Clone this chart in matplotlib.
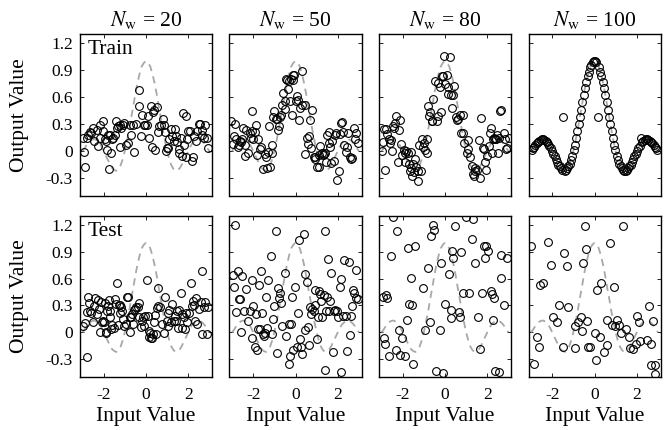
import matplotlib
matplotlib.use("Agg")
import matplotlib.pyplot as plt

plt.rcParams['font.family'] = ['Liberation Serif', 'DejaVu Serif']
plt.rcParams['mathtext.fontset'] = 'stix'
plt.rcParams['axes.unicode_minus'] = False

window_sizes = [20, 50, 80, 100]
row_names = ['Train', 'Test']

# target function (dashed grey)
curve_x = [-3.0, -2.9, -2.8, -2.7, -2.6, -2.5, -2.4, -2.3, -2.2, -2.1,
           -2.0, -1.9, -1.8, -1.7, -1.6, -1.5, -1.4, -1.3, -1.2, -1.1,
           -1.0, -0.9, -0.8, -0.7, -0.6, -0.5, -0.4, -0.3, -0.2, -0.1,
           0.0, 0.1, 0.2, 0.3, 0.4, 0.5, 0.6, 0.7, 0.8, 0.9,
           1.0, 1.1, 1.2, 1.3, 1.4, 1.5, 1.6, 1.7, 1.8, 1.9,
           2.0, 2.1, 2.2, 2.3, 2.4, 2.5, 2.6, 2.7, 2.8, 2.9, 3.0]
curve_y = [0.00, 0.03, 0.07, 0.10, 0.12, 0.13, 0.13, 0.11, 0.09, 0.05,
           0.00, -0.05, -0.10, -0.15, -0.19, -0.21, -0.22, -0.20, -0.16, -0.09,
           0.00, 0.11, 0.23, 0.37, 0.50, 0.64, 0.76, 0.86, 0.94, 0.98,
           1.00, 0.98, 0.94, 0.86, 0.76, 0.64, 0.50, 0.37, 0.23, 0.11,
           0.00, -0.09, -0.16, -0.20, -0.22, -0.21, -0.19, -0.15, -0.10, -0.05,
           0.00, 0.05, 0.09, 0.11, 0.13, 0.13, 0.12, 0.10, 0.07, 0.03, 0.00]

# ---- train, Nw = 20
train20_x = [-2.97, -2.94, -2.89, -2.81, -2.73, -2.66, -2.58, -2.50, -2.47, -2.34,
             -2.27, -2.19, -2.16, -2.03, -2.03, -1.95, -1.88, -1.83, -1.80, -1.77,
             -1.72, -1.64, -1.59, -1.56, -1.48, -1.44, -1.38, -1.33, -1.25, -1.22,
             -1.17, -1.09, -1.02, -0.94, -0.86, -0.78, -0.70, -0.63, -0.55, -0.47,
             -0.34, -0.31, -0.23, -0.19, -0.08, -0.03, 0.03, 0.09, 0.16, 0.23,
             0.28, 0.31, 0.39, 0.44, 0.50, 0.55, 0.63, 0.70, 0.78, 0.86,
             0.89, 0.94, 0.97, 1.02, 1.09, 1.17, 1.25, 1.33, 1.38, 1.44,
             1.48, 1.56, 1.56, 1.64, 1.69, 1.75, 1.80, 1.88, 1.91, 1.95,
             2.00, 2.06, 2.19, 2.22, 2.27, 2.34, 2.42, 2.50, 2.55, 2.63,
             2.66, 2.73, 2.81, 2.86, 2.94]
train20_y = [0.15, -0.01, -0.18, 0.15, 0.18, 0.21, 0.20, 0.26, 0.11, 0.23,
             0.06, 0.29, 0.15, 0.33, 0.22, 0.13, 0.11, 0.01, 0.18, -0.20,
             0.18, -0.02, 0.13, 0.15, 0.18, 0.33, 0.26, 0.28, 0.04, 0.29,
             0.26, 0.29, 0.31, 0.07, 0.09, 0.29, 0.18, 0.29, -0.01, 0.30,
             0.68, 0.50, 0.17, 0.40, 0.29, 0.29, 0.29, 0.39, 0.15, 0.50,
             0.04, 0.43, 0.46, 0.01, 0.49, 0.21, 0.28, 0.29, 0.36, 0.29,
             0.21, 0.00, 0.03, 0.03, 0.13, 0.24, 0.17, 0.11, 0.24, 0.17,
             0.10, -0.02, 0.02, 0.15, -0.06, 0.42, 0.07, 0.39, -0.07, 0.13,
             0.22, 0.22, -0.11, -0.07, 0.17, 0.11, 0.22, 0.30, 0.30, 0.23,
             0.18, 0.15, 0.29, 0.15, 0.03]

# ---- train, Nw = 50
train50_x = [-3.03, -2.84, -2.90, -2.95, -2.79, -2.71, -2.68, -2.63, -2.59, -2.52,
             -2.48, -2.40, -2.37, -2.33, -2.24, -2.16, -2.11, -2.08, -2.05, -2.00,
             -1.92, -1.87, -1.84, -1.76, -1.68, -1.63, -1.52, -1.44, -1.41, -1.37,
             -1.32, -1.25, -1.21, -1.13, -1.10, -1.05, -1.00, -0.94, -0.89, -0.84,
             -0.78, -0.73, -0.68, -0.65, -0.57, -0.52, -0.49, -0.46, -0.41, -0.37,
             -0.33, -0.25, -0.21, -0.17, -0.14, -0.10, -0.05, 0.02, 0.06, 0.14,
             0.17, 0.22, 0.30, 0.33, 0.43, 0.46, 0.54, 0.59, 0.65, 0.70,
             0.75, 0.78, 0.86, 0.90, 0.94, 1.02, 1.10, 1.13, 1.17, 1.25,
             1.29, 1.33, 1.41, 1.44, 1.49, 1.57, 1.60, 1.65, 1.70, 1.73,
             1.81, 1.86, 1.92, 1.97, 2.05, 2.08, 2.13, 2.21, 2.24, 2.29,
             2.37, 2.44, 2.49, 2.56, 2.60, 2.68, 2.76, 2.81, 2.87, 2.97]
train50_y = [0.33, 0.30, 0.17, 0.08, 0.13, 0.04, 0.07, 0.11, 0.10, 0.13,
             0.26, 0.07, -0.06, 0.23, -0.02, 0.20, 0.15, 0.22, 0.45, 0.13,
             0.21, 0.29, -0.04, 0.13, 0.02, 0.05, -0.20, -0.03, -0.07, -0.19,
             -0.01, 0.28, -0.18, -0.02, 0.07, 0.38, 0.44, 0.36, 0.36, 0.23,
             0.28, 0.38, 0.40, 0.51, 0.64, 0.47, 0.56, 0.80, 0.79, 0.69,
             0.78, 0.56, 0.80, 0.40, 0.79, 0.85, 0.85, 0.56, 0.61, 0.57,
             0.34, 0.48, 0.51, 0.89, 0.51, -0.03, 0.15, 0.08, 0.17, 0.35,
             0.03, 0.46, -0.07, -0.07, -0.09, -0.18, -0.18, -0.04, 0.06, -0.02,
             -0.04, -0.03, -0.02, -0.12, 0.18, 0.21, 0.09, 0.04, -0.13, 0.11,
             -0.11, 0.18, 0.20, -0.32, -0.22, 0.19, 0.31, 0.32, 0.21, 0.07,
             -0.01, 0.04, 0.20, -0.07, -0.09, -0.08, 0.26, 0.13, 0.20, 0.09]

# ---- train, Nw = 80
train80_x = [-2.98, -2.94, -2.89, -2.83, -2.78, -2.73, -2.67, -2.62, -2.57, -2.51,
             -2.46, -2.41, -2.35, -2.30, -2.22, -2.19, -2.14, -2.06, -2.03, -1.94,
             -1.90, -1.87, -1.83, -1.75, -1.71, -1.67, -1.62, -1.59, -1.56, -1.51,
             -1.46, -1.40, -1.35, -1.30, -1.27, -1.22, -1.14, -1.11, -1.03, -0.98,
             -0.95, -0.87, -0.83, -0.79, -0.76, -0.71, -0.63, -0.60, -0.56, -0.48,
             -0.40, -0.35, -0.32, -0.24, -0.19, -0.16, -0.08, -0.03, 0.00, 0.08,
             0.13, 0.16, 0.24, 0.29, 0.32, 0.40, 0.44, 0.51, 0.56, 0.63,
             0.71, 0.76, 0.83, 0.87, 0.92, 1.03, 1.08, 1.11, 1.19, 1.27,
             1.30, 1.35, 1.40, 1.43, 1.51, 1.62, 1.67, 1.71, 1.78, 1.83,
             1.90, 1.94, 1.98, 2.06, 2.14, 2.19, 2.22, 2.25, 2.30, 2.35,
             2.41, 2.46, 2.51, 2.57, 2.62, 2.67, 2.78, 2.83, 2.86, 2.94, 3.02]
train80_y = [0.00, 0.10, 0.24, -0.21, 0.25, 0.19, 0.13, 0.09, 0.12, 0.00,
             0.28, 0.26, 0.31, 0.39, -0.12, 0.23, 0.35, 0.08, -0.04, 0.01,
             -0.12, -0.02, 0.00, -0.02, -0.14, -0.22, -0.19, -0.01, -0.28, -0.14,
             -0.23, -0.09, -0.18, -0.22, -0.33, 0.07, -0.22, 0.13, 0.04, 0.09,
             0.01, -0.02, 0.13, 0.50, 0.39, 0.43, 0.33, 0.33, 0.58, 0.78,
             0.33, 0.76, 0.39, 0.71, 0.43, 0.83, 0.83, 1.06, 0.74, 0.84,
             0.63, 0.71, 1.04, 0.62, 0.48, 0.62, 0.72, 0.38, 0.35, 0.36,
             0.40, 0.20, 0.40, 0.20, 0.09, -0.02, 0.02, 0.12, -0.07, -0.17,
             -0.26, -0.28, -0.22, -0.19, -0.21, 0.12, -0.30, 0.37, 0.03, 0.02,
             -0.12, -0.21, -0.06, 0.06, 0.20, 0.26, -0.02, 0.13, 0.15, 0.13,
             0.13, 0.18, -0.02, 0.15, 0.45, 0.46, 0.20, 0.13, 0.02, 0.03, 0.15]

# ---- train, Nw = 100
train100_x = [-2.97, -2.91, -2.85, -2.79, -2.73, -2.67, -2.61, -2.55, -2.49, -2.43,
              -2.37, -2.31, -2.25, -2.19, -2.13, -2.07, -2.01, -1.95, -1.89, -1.83,
              -1.77, -1.71, -1.65, -1.59, -1.53, -1.47, -1.41, -1.35, -1.29, -1.23,
              -1.17, -1.11, -1.05, -0.99, -0.93, -0.87, -0.81, -0.75, -0.69, -0.63,
              -0.57, -0.51, -0.45, -0.39, -0.33, -0.27, -0.21, -0.15, -0.09, -0.03,
              0.03, 0.09, 0.15, 0.21, 0.27, 0.33, 0.39, 0.45, 0.51, 0.57,
              0.63, 0.69, 0.75, 0.81, 0.87, 0.93, 0.99, 1.05, 1.11, 1.17,
              1.23, 1.29, 1.35, 1.41, 1.47, 1.53, 1.59, 1.65, 1.71, 1.77,
              1.83, 1.89, 1.95, 2.01, 2.07, 2.13, 2.19, 2.25, 2.31, 2.37,
              2.43, 2.49, 2.55, 2.61, 2.67, 2.73, 2.79, 2.85, 2.91, 2.97]
train100_y = [0.01, 0.03, 0.05, 0.07, 0.09, 0.10, 0.11, 0.12, 0.13, 0.13,
              0.12, 0.11, 0.10, 0.08, 0.06, 0.03, 0.00, -0.03, -0.06, -0.09,
              -0.12, -0.15, -0.17, -0.19, -0.21, 0.38, -0.22, -0.21, -0.19, -0.17,
              -0.14, -0.10, -0.05, 0.01, 0.07, 0.14, 0.22, 0.30, 0.38, 0.46,
              0.54, 0.62, 0.70, 0.77, 0.83, 0.88, 0.93, 0.96, 0.99, 1.00,
              1.00, 0.99, 0.38, 0.93, 0.88, 0.83, 0.77, 0.70, 0.62, 0.54,
              0.46, 0.38, 0.30, 0.22, 0.14, 0.07, 0.01, -0.05, -0.10, -0.14,
              -0.17, -0.19, -0.21, -0.22, -0.22, -0.21, -0.19, -0.17, -0.15, -0.12,
              -0.09, -0.06, -0.03, 0.00, 0.03, 0.06, 0.15, 0.10, 0.11, 0.12,
              0.13, 0.13, 0.12, 0.11, 0.10, 0.09, 0.07, 0.05, 0.03, 0.01]

# ---- test, Nw = 20
test20_x = [-2.97, -2.89, -2.81, -2.78, -2.73, -2.69, -2.63, -2.58, -2.50, -2.47,
            -2.42, -2.34, -2.27, -2.22, -2.19, -2.11, -2.06, -2.03, -1.98, -1.95,
            -1.91, -1.88, -1.84, -1.80, -1.75, -1.72, -1.69, -1.64, -1.59, -1.53,
            -1.48, -1.41, -1.36, -1.33, -1.28, -1.25, -1.22, -1.17, -1.13, -1.09,
            -1.02, -0.94, -0.91, -0.86, -0.78, -0.75, -0.70, -0.66, -0.63, -0.58,
            -0.50, -0.47, -0.39, -0.34, -0.31, -0.23, -0.19, -0.16, -0.08, -0.03,
            0.05, 0.08, 0.13, 0.16, 0.20, 0.23, 0.28, 0.31, 0.39, 0.44,
            0.47, 0.50, 0.55, 0.59, 0.66, 0.75, 0.86, 0.91, 0.97, 1.02,
            1.06, 1.09, 1.17, 1.25, 1.33, 1.38, 1.41, 1.48, 1.53, 1.56,
            1.64, 1.69, 1.72, 1.80, 1.84, 1.91, 1.95, 2.03, 2.11, 2.16,
            2.22, 2.27, 2.31, 2.38, 2.42, 2.50, 2.58, 2.63, 2.66, 2.73,
            2.81, 2.86, 2.94]
test20_y = [0.07, 0.10, 0.23, -0.28, 0.40, 0.33, 0.24, 0.22, 0.11, 0.29,
            0.38, 0.20, 0.36, 0.26, 0.00, 0.34, 0.12, 0.13, 0.12, 0.33,
            -0.01, 0.00, 0.24, 0.29, 0.36, 0.17, 0.24, 0.04, 0.08, 0.05,
            0.37, 0.32, 0.55, 0.08, 0.31, 0.31, 0.22, 0.28, 0.24, 0.15,
            0.07, 0.09, 0.40, 0.39, 0.00, 0.17, 0.17, 0.20, 0.09, 0.25,
            0.26, 0.28, 0.28, 0.33, 0.17, 0.06, 0.13, 0.17, 0.07, 0.18,
            0.58, 0.18, 0.01, -0.05, -0.01, -0.06, -0.06, -0.02, 0.12, 0.19,
            -0.02, 0.27, 0.29, 0.49, 0.28, 0.09, -0.01, 0.39, 0.13, 0.07,
            0.22, 0.25, 0.11, 0.32, 0.13, 0.18, 0.13, 0.24, 0.05, 0.25,
            0.44, 0.05, 0.20, 0.17, 0.04, 0.22, 0.12, 0.21, 0.55, 0.29,
            0.35, 0.31, 0.13, 0.38, 0.09, 0.26, 0.34, -0.02, 0.68, 0.28,
            0.34, -0.02, 0.28]

# ---- test, Nw = 50
test50_x = [-2.95, -2.90, -2.84, -2.79, -2.71, -2.68, -2.63, -2.59, -2.52, -2.43,
            -2.32, -2.24, -2.16, -2.08, -2.05, -2.00, -1.92, -1.87, -1.84, -1.79,
            -1.73, -1.68, -1.63, -1.57, -1.52, -1.48, -1.44, -1.41, -1.37, -1.29,
            -1.16, -1.13, -1.05, -1.00, -0.94, -0.89, -0.84, -0.78, -0.73, -0.68,
            -0.62, -0.52, -0.46, -0.33, -0.30, -0.25, -0.21, -0.17, -0.10, -0.02,
            0.06, 0.11, 0.17, 0.22, 0.27, 0.33, 0.38, 0.43, 0.46, 0.54,
            0.59, 0.65, 0.70, 0.75, 0.78, 0.86, 0.90, 0.94, 1.02, 1.06,
            1.10, 1.17, 1.22, 1.25, 1.33, 1.38, 1.41, 1.44, 1.49, 1.54,
            1.60, 1.65, 1.70, 1.76, 1.81, 1.89, 1.97, 2.02, 2.08, 2.13,
            2.17, 2.24, 2.29, 2.37, 2.44, 2.52, 2.56, 2.60, 2.68, 2.73,
            2.76, 2.84, 2.87, 2.97]
test50_y = [0.64, 0.51, 1.20, 0.23, 0.69, 0.37, 0.37, 0.00, 0.63, 0.24,
            0.48, 0.13, 0.24, 0.59, -0.06, 0.29, -0.16, 0.20, -0.20, 0.04,
            0.53, 0.04, 0.69, 0.22, -0.02, -0.04, -0.01, 0.39, 0.05, 0.58,
            0.85, -0.02, 0.15, 0.29, 1.13, -0.23, 0.50, 0.38, 0.44, 0.33,
            0.07, 0.66, -0.04, 0.09, -0.36, -0.27, 0.09, 0.39, -0.20, 0.51,
            -0.16, 0.21, 1.03, -0.07, -0.17, -0.24, 1.10, 0.65, 0.03, 0.56,
            0.06, -0.14, 0.28, 0.20, 0.26, 0.24, 0.47, 0.31, -0.07, 0.17,
            0.46, 0.43, 0.35, 0.17, 0.42, 1.13, -0.42, 0.24, 0.40, 0.82,
            0.24, 0.35, 0.66, -0.22, 0.24, 0.25, 0.24, 0.17, 0.51, -0.44,
            0.60, 0.18, 0.81, 0.18, -0.21, 0.79, -0.03, 0.18, 0.29, 0.47,
            0.44, 0.38, 0.70, 0.37]

# ---- test, Nw = 80
test80_x = [-2.93, -2.88, -2.82, -2.77, -2.72, -2.66, -2.57, -2.46, -2.30, -2.25,
            -2.19, -2.14, -2.03, -1.87, -1.80, -1.75, -1.70, -1.62, -1.56, -1.51,
            -1.40, -1.04, -0.96, -0.80, -0.72, -0.68, -0.57, -0.52, -0.41, -0.25,
            -0.17, -0.09, 0.02, 0.17, 0.27, 0.30, 0.33, 0.38, 0.46, 0.65,
            0.69, 0.77, 0.85, 1.01, 1.12, 1.28, 1.32, 1.43, 1.56, 1.64,
            1.75, 1.84, 1.91, 1.95, 2.03, 2.16, 2.22, 2.27, 2.31, 2.35,
            2.54, 2.66, 2.66, 2.79, 2.94]
test80_y = [0.40, -0.06, -0.13, 0.42, 0.38, -0.26, 0.85, 1.29, -0.20, 1.13,
            0.03, -0.25, -0.06, -0.27, 0.14, 0.94, 0.32, 0.61, 0.31, -0.35,
            0.97, 0.49, 0.03, 0.72, 0.12, 1.08, 1.20, 1.14, -0.43, 0.03,
            0.77, -0.45, 0.32, 0.65, 0.25, 0.16, 0.91, 0.83, 1.19, 0.23,
            0.17, 0.90, 0.44, 1.29, 0.44, 1.04, 1.27, 0.78, 0.17, -0.19,
            0.44, 0.96, 0.83, 0.96, 0.91, 0.46, 0.43, 0.14, 0.38, -0.43,
            -0.44, 0.86, 0.61, 0.31, 0.83]

# ---- test, Nw = 100
test100_x = [-2.99, -2.87, -2.71, -2.63, -2.58, -2.43, -2.20, -2.05, -1.95, -1.76,
             -1.69, -1.50, -1.42, -1.32, -1.26, -0.94, -0.90, -0.79, -0.66, -0.58,
             -0.54, -0.47, -0.38, -0.35, -0.31, -0.19, 0.00, 0.09, 0.13, 0.25,
             0.31, 0.47, 0.57, 0.60, 0.72, 0.83, 0.91, 0.99, 1.06, 1.15,
             1.26, 1.35, 1.51, 1.62, 1.70, 1.83, 1.94, 2.02, 2.09, 2.17,
             2.46, 2.57, 2.68, 2.77, 2.68, 2.88, 2.85]
test100_y = [0.97, -0.35, -0.05, -0.16, 0.53, 0.55, 1.01, 0.75, 0.17, 0.12,
             0.31, -0.16, 0.89, 0.74, 0.28, -0.18, 0.07, 0.11, 0.17, 0.01,
             0.77, 1.19, 0.93, 0.13, -0.16, -0.17, -0.01, -0.31, 0.47, -0.05,
             0.55, -0.22, -0.14, 0.14, 1.00, 0.08, 0.51, 0.07, 0.14, 0.08,
             -0.01, 1.19, 0.04, -0.05, -0.18, -0.19, -0.13, 0.18, 0.11, -0.10,
             -0.09, 0.29, -0.13, 0.13, -0.37, -0.37, -0.47]

train_sets = [(train20_x, train20_y), (train50_x, train50_y),
              (train80_x, train80_y), (train100_x, train100_y)]
test_sets = [(test20_x, test20_y), (test50_x, test50_y),
             (test80_x, test80_y), (test100_x, test100_y)]

yticks = [-0.3, 0, 0.3, 0.6, 0.9, 1.2]
ytick_labels = ['-0.3', '0', '0.3', '0.6', '0.9', '1.2']
xticks = [-2, 0, 2]

fig = plt.figure(figsize=(6.67, 4.3), dpi=100)
W, H = 667.0, 430.0
lefts = [80, 229.5, 379, 528.5]
panel_w = 132
rows = [(34, 196), (216, 377)]   # top, bottom in pixels

for r, sets in enumerate([train_sets, test_sets]):
    top, bot = rows[r]
    for c in range(4):
        ax = fig.add_axes([lefts[c] / W, (H - bot) / H, panel_w / W, (bot - top) / H])
        ax.plot(curve_x, curve_y, color='#a8a8a8', lw=1.3, ls=(0, (4, 3)))
        xs, ys = sets[c]
        ax.plot(xs, ys, ls='none', marker='o', ms=5.6, mfc='none', mec='black', mew=0.8)
        ax.set_xlim(-3.12, 3.12)
        ax.set_ylim(-0.5, 1.3)
        ax.set_xticks(xticks)
        ax.set_yticks(yticks)
        ax.tick_params(direction='in', top=True, right=True, length=3, width=0.6,
                       labelsize=12.5, pad=5)
        ax.tick_params(axis='x', pad=7)
        for sp in ax.spines.values():
            sp.set_linewidth(1.0)
        if c == 0:
            ax.set_yticklabels(ytick_labels)
            ax.set_ylabel('Output Value', fontsize=15.5)
            ax.yaxis.set_label_coords(-0.39, 0.5)
            ax.text(0.06, 0.96, row_names[r], transform=ax.transAxes,
                    ha='left', va='top', fontsize=15.5)
        else:
            ax.set_yticklabels([])
        if r == 1:
            ax.set_xticklabels(['-2', '0', '2'])
            ax.set_xlabel('Input Value', fontsize=15.5, labelpad=3)
        else:
            ax.set_xticklabels([])
            ax.set_title(r'$N_{\mathrm{w}}$ = %d' % window_sizes[c], fontsize=15.5, pad=6)

fig.savefig('out.png', dpi=100)
